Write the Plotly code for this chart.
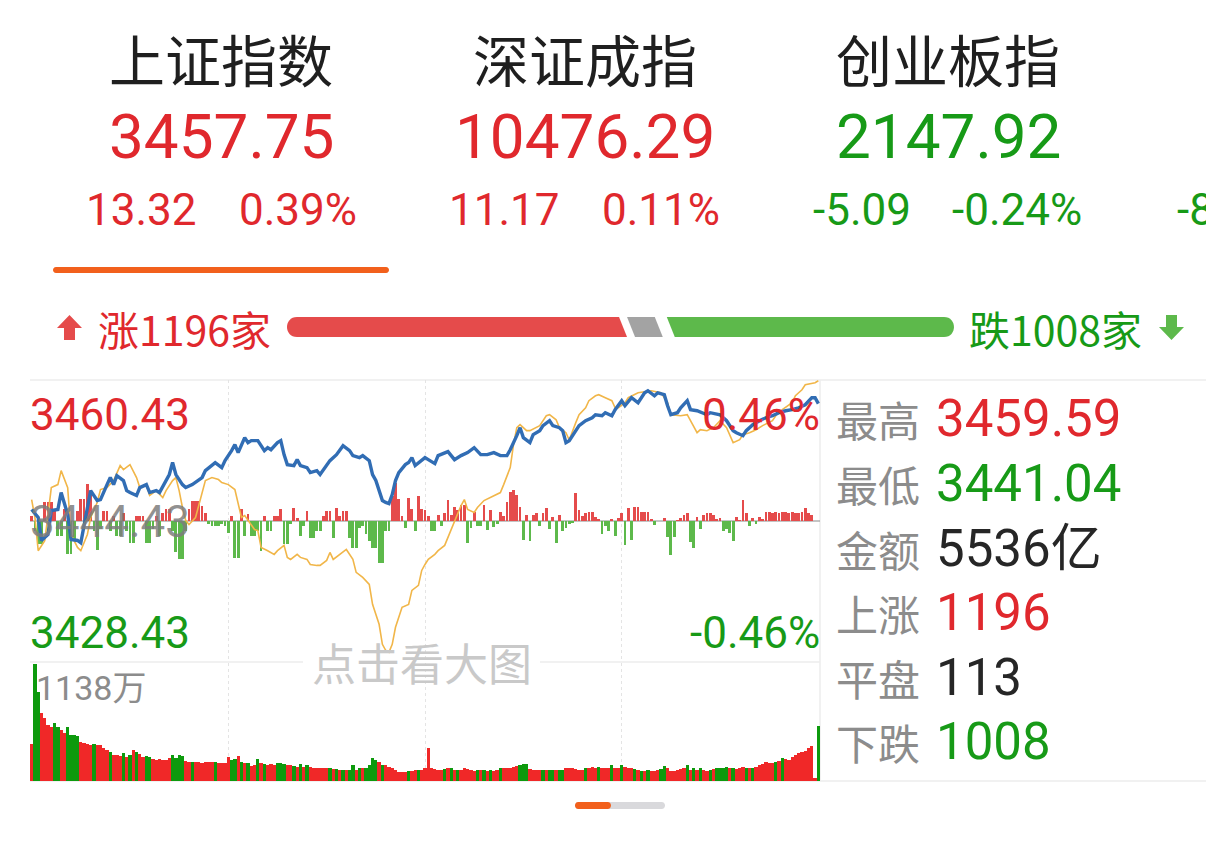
import plotly.graph_objects as go

W, H = 1206, 855

# ---------------- header data ----------------
index_names = ["上证指数", "深证成指", "创业板指"]
index_values = ["3457.75", "10476.29", "2147.92"]
index_changes = [13.32, 11.17, -5.09]
index_pcts = [0.39, 0.11, -0.24]
partial_fourth_change = "-8"

# ---------------- market breadth ----------------
n_up, n_flat, n_down = 1196, 113, 1008

# ---------------- price axis labels ----------------
pre_close = 3444.43
axis_top, axis_bottom = 3460.43, 3428.43
axis_pct = 0.46

# ---------------- index line (minute, price) ----------------
idx_min = [0, 2, 3, 5, 6, 8, 9, 11, 12, 14, 15, 16, 18, 20, 21, 23, 24, 25, 26, 28,
           29, 30, 32, 33, 35, 36, 38, 39, 41, 42, 43, 44, 46, 47, 49, 50, 52, 53, 55, 56,
           58, 59, 61, 62, 63, 65, 66, 67, 69, 71, 72, 73, 75, 76, 77, 78, 80, 81, 82, 84,
           85, 87, 88, 90, 91, 93, 94, 95, 97, 98, 100, 101, 103, 104, 105, 106, 107, 108, 109, 110,
           111, 112, 114, 115, 116, 117, 119, 120, 121, 123, 124, 127, 129, 131, 133, 135, 137, 139, 141, 143,
           145, 146, 148, 149, 150, 152, 153, 155, 156, 158, 159, 161, 162, 163, 164, 166, 167, 169, 171, 172,
           174, 175, 177, 178, 180, 181, 183, 185, 187, 188, 190, 191, 193, 194, 195, 197, 198, 200, 201, 203,
           206, 207, 210, 212, 214, 215, 217, 218, 220, 222, 224, 226, 228, 230, 232, 234, 236, 238, 239, 240]
idx_price = [3445.73, 3444.83, 3442.22, 3442.90, 3445.62, 3445.73, 3447.66, 3445.17, 3442.33, 3442.22,
             3441.95, 3444.03, 3447.88, 3446.75, 3446.86, 3448.56, 3449.36, 3448.56, 3449.58, 3449.02,
             3447.88, 3447.66, 3447.32, 3448.22, 3448.56, 3447.66, 3447.88, 3447.66, 3449.02, 3449.70,
             3451.06, 3449.70, 3448.56, 3448.22, 3448.56, 3448.79, 3449.36, 3450.15, 3450.72, 3451.06,
             3450.49, 3451.28, 3452.41, 3453.09, 3452.19, 3453.89, 3453.32, 3453.55, 3453.55, 3452.41,
             3452.75, 3452.52, 3453.32, 3453.55, 3451.96, 3450.83, 3450.72, 3451.39, 3450.72, 3450.49,
             3449.92, 3450.15, 3449.70, 3450.72, 3451.28, 3451.96, 3452.41, 3452.98, 3452.41, 3451.85,
             3451.62, 3451.85, 3451.28, 3449.70, 3449.02, 3447.88, 3446.75, 3446.53, 3446.41, 3447.43,
             3449.02, 3449.92, 3450.83, 3451.06, 3451.62, 3450.72, 3451.39, 3451.62, 3451.39, 3450.94,
             3451.85, 3452.30, 3451.39, 3451.85, 3452.19, 3452.75, 3451.96, 3451.96, 3452.19, 3451.85,
             3451.85, 3452.52, 3454.11, 3455.02, 3453.89, 3453.32, 3454.23, 3454.68, 3455.25, 3455.81,
             3455.25, 3455.02, 3454.68, 3453.32, 3453.55, 3454.79, 3455.25, 3455.81, 3456.15, 3456.49,
             3456.38, 3456.72, 3456.38, 3457.06, 3458.08, 3457.51, 3458.42, 3457.85, 3458.98, 3459.21,
             3458.64, 3458.98, 3458.76, 3457.51, 3456.49, 3456.72, 3457.28, 3458.08, 3457.06, 3456.94,
             3456.49, 3456.72, 3456.49, 3455.81, 3454.68, 3454.45, 3454.11, 3454.68, 3455.36, 3455.81,
             3456.15, 3456.38, 3456.72, 3456.94, 3457.06, 3457.28, 3457.62, 3458.42, 3458.42, 3457.75]

# ---------------- leading (unweighted) line ----------------
lead_min = [0, 1, 2, 4, 5, 6, 8, 9, 11, 12, 14, 15, 17, 18, 20, 21, 23, 25, 27, 28,
            30, 32, 33, 35, 36, 38, 40, 41, 43, 44, 45, 46, 47, 48, 50, 51, 52, 53, 55, 57,
            58, 60, 62, 63, 64, 65, 66, 68, 69, 70, 72, 74, 75, 77, 78, 79, 81, 82, 84, 85,
            87, 88, 90, 91, 92, 95, 96, 98, 99, 101, 103, 104, 106, 107, 108, 109, 110, 111, 112, 113,
            115, 116, 118, 119, 120, 121, 123, 124, 126, 127, 129, 130, 131, 132, 133, 135, 136, 138, 140, 141,
            143, 144, 146, 147, 148, 149, 151, 152, 154, 155, 157, 158, 160, 161, 163, 164, 166, 167, 169, 170,
            172, 173, 175, 177, 178, 179, 181, 182, 185, 189, 192, 194, 195, 198, 200, 201, 203, 204, 206, 208,
            210, 212, 213, 214, 216, 217, 219, 221, 223, 226, 227, 229, 232, 233, 235, 236, 239, 240]
lead_price = [3446.86, 3444.83, 3441.06, 3442.19, 3445.17, 3448.22, 3448.56, 3450.15, 3448.22, 3442.90,
              3441.43, 3441.06, 3442.90, 3444.83, 3446.53, 3448.00, 3448.22, 3449.02, 3450.72, 3450.26,
              3450.83, 3449.36, 3448.22, 3448.56, 3447.32, 3447.88, 3447.09, 3447.88, 3449.02, 3449.36,
              3447.88, 3445.96, 3444.49, 3444.03, 3444.83, 3446.30, 3447.88, 3449.02, 3449.36, 3449.13,
              3448.79, 3448.56, 3448.00, 3446.30, 3444.83, 3445.05, 3444.49, 3443.47, 3443.35, 3441.43,
              3441.06, 3440.64, 3441.06, 3441.66, 3440.30, 3440.07, 3440.64, 3440.30, 3440.07, 3439.50,
              3439.39, 3439.39, 3439.96, 3440.86, 3440.07, 3440.86, 3441.20, 3440.07, 3438.60, 3438.03,
              3437.24, 3434.97, 3432.71, 3430.44, 3429.76, 3429.54, 3430.44, 3432.37, 3433.50, 3434.63,
              3434.97, 3436.56, 3437.13, 3438.82, 3439.50, 3440.07, 3440.64, 3441.06, 3441.66, 3442.56,
              3444.26, 3445.17, 3446.19, 3446.86, 3445.73, 3445.39, 3445.96, 3446.75, 3447.09, 3447.32,
              3447.66, 3448.56, 3450.49, 3453.09, 3455.02, 3455.36, 3454.68, 3454.68, 3455.02, 3455.25,
              3456.38, 3456.49, 3455.92, 3455.02, 3454.45, 3453.62, 3455.59, 3456.49, 3457.28, 3458.08,
              3458.64, 3458.76, 3458.42, 3458.08, 3457.28, 3457.28, 3457.85, 3458.42, 3458.98, 3459.21,
              3458.98, 3457.85, 3456.49, 3456.38, 3456.49, 3455.81, 3454.45, 3454.79, 3454.68, 3455.02,
              3455.81, 3455.02, 3454.11, 3453.32, 3453.66, 3454.23, 3454.45, 3454.79, 3455.25, 3455.81,
              3456.38, 3457.06, 3457.85, 3458.64, 3459.32, 3459.89, 3460.12, 3460.34]

# ---------------- buy/sell flow bars (per minute, arbitrary units) ----------------
flow = [5, -10, -23, -23, 19, 19, 19, 10, -15, -15,
        12, -33, -33, -20, 10, 22, 22, 37, 30, -10,
        -29, -8, 10, 10, -10, 5, -15, -15, 8, -10,
        -22, -22, 5, 5, 5, -22, -22, -8, 5, -15,
        8, 12, 12, -10, -31, -38, -38, -10, 12, 20,
        20, 20, 15, 8, -3, -5, -5, -5, -3, -5,
        -12, 5, -37, -37, 12, -15, 7, -15, -15, -10,
        -30, 5, -10, -10, 5, 5, 12, -23, -23, -3,
        13, 3, -15, -5, 10, -17, -17, -10, -10, 5,
        10, 10, -17, 13, 5, 10, 10, -17, -27, -27,
        -7, -5, -13, -20, -27, -27, -42, -42, -10, -10,
        25, 38, 22, 5, -7, 23, 12, -10, 25, 12,
        11, 5, -10, -10, 6, -5, 8, 21, 6, 14,
        11, 16, 16, -22, -7, 9, -5, -5, 16, -9,
        11, -6, -3, 9, 5, 19, 29, 31, 26, 14,
        -19, 6, -20, 6, 8, -5, 8, 13, -8, 4,
        -22, 6, -10, -7, -3, -2, 28, 11, 5, 8,
        9, 9, 4, 2, -13, -5, -10, 2, -15, 3,
        8, -24, 13, -19, 14, 14, 9, 9, 9, 2,
        -4, 0, 0, 3, -16, -34, -16, 1, 3, 6,
        8, -21, -27, 4, -8, 6, 8, 8, 6, 2,
        3, -10, -8, -12, -20, 4, 1, 21, 8, -5,
        3, -3, 4, 2, 9, 9, 8, 9, 8, 9,
        9, 8, 9, 8, 8, 9, 13, 8, 6, 0,
        0]

# ---------------- volume (万) ----------------
volume = [357, 1138, 858, 656, 607, 540, 521, 559, 521, 492,
          463, 521, 443, 443, 434, 376, 366, 357, 347, 357,
          347, 347, 318, 299, 280, 251, 251, 241, 270, 231,
          251, 299, 280, 260, 231, 241, 231, 212, 202, 212,
          202, 202, 222, 251, 222, 251, 241, 193, 183, 183,
          183, 183, 174, 183, 183, 183, 183, 174, 174, 174,
          231, 202, 212, 241, 183, 174, 174, 145, 154, 212,
          174, 164, 154, 164, 154, 174, 174, 164, 154, 154,
          145, 135, 164, 135, 154, 135, 125, 125, 125, 125,
          125, 125, 116, 116, 106, 106, 106, 106, 154, 106,
          125, 125, 125, 154, 222, 202, 183, 154, 154, 135,
          125, 106, 87, 87, 87, 96, 96, 106, 106, 106,
          125, 318, 125, 116, 106, 106, 116, 125, 125, 106,
          106, 106, 125, 116, 106, 96, 106, 106, 106, 96,
          106, 96, 106, 125, 125, 125, 125, 135, 145, 154,
          164, 164, 116, 106, 106, 106, 106, 106, 106, 106,
          106, 106, 106, 125, 125, 125, 116, 106, 106, 125,
          125, 135, 125, 135, 125, 125, 125, 154, 125, 125,
          154, 135, 125, 125, 116, 106, 96, 96, 106, 96,
          96, 106, 116, 145, 125, 96, 96, 106, 116, 125,
          154, 106, 125, 106, 125, 106, 96, 106, 116, 125,
          125, 125, 135, 125, 125, 116, 125, 135, 125, 125,
          125, 135, 154, 164, 183, 174, 174, 183, 193, 222,
          212, 202, 231, 251, 270, 280, 289, 318, 337, 29,
          530]
vol_down_minutes = [1, 2, 7, 8, 11, 12, 13, 14, 19, 24, 28, 30, 32, 35, 36, 43, 44, 45, 46, 49,
                    56, 61, 62, 64, 66, 69, 71, 75, 76, 77, 80, 82, 84, 91, 93, 95, 97, 98, 100, 102,
                    103, 104, 105, 107, 115, 118, 126, 128, 130, 136, 138, 140, 143, 149, 150, 151, 156,
                    158, 159, 161, 162, 169, 173, 177, 180, 184, 186, 188, 192, 193, 200, 202, 204, 207,
                    209, 210, 211, 212, 214, 218, 220, 227, 229, 240]
vol_max_label = "1138万"

# ---------------- right-side stats ----------------
stat_labels = ["最高", "最低", "金额", "上涨", "平盘", "下跌"]
stat_values = ["3459.59", "3441.04", "5536亿", "1196", "113", "1008"]
stat_kind = ["up", "down", "flat", "up", "flat", "down"]

# ---------------- styling ----------------
RED_T = "#e0282d"
GREEN_T = "#179a17"
DARK_T = "#262626"
GRAY_T = "#8c8c8c"
CJK = "Noto Sans CJK SC"
NUM = "Roboto, Noto Sans CJK SC"
kind_color = {"up": RED_T, "down": GREEN_T, "flat": DARK_T}


def px(x):
    return x / W


def py(y):
    return 1 - y / H


def path_from(points):
    """points: list of (cmd, [(x,y),...]) in pixel coords -> paper path string"""
    s = []
    for cmd, pts in points:
        if cmd == "Z":
            s.append("Z")
        elif cmd == "C":
            s.append("C " + " ".join(f"{px(x):.5f},{py(y):.5f}" for x, y in pts))
        else:
            for j, (x, y) in enumerate(pts):
                c = cmd if (cmd == "L" or j == 0) else "L"
                s.append(f"{c} {px(x):.5f},{py(y):.5f}")
    return " ".join(s)


def rounded_bar(x0, x1, y0, y1, slant_left=0, slant_right=0, round_left=False, round_right=False):
    r = (y1 - y0) / 2
    k = 4 / 3 * r
    pts = []
    if round_left:
        pts.append(("M", [(x0 + r, y0)]))
    else:
        pts.append(("M", [(x0, y0)]))
    if round_right:
        pts.append(("L", [(x1 - r, y0)]))
        pts.append(("C", [(x1 - r + k, y0), (x1 - r + k, y1), (x1 - r, y1)]))
    else:
        pts.append(("L", [(x1 - slant_right, y0)]))
        pts.append(("L", [(x1, y1)]))
    if round_left:
        pts.append(("L", [(x0 + r, y1)]))
        pts.append(("C", [(x0 + r - k, y1), (x0 + r - k, y0), (x0 + r, y0)]))
    else:
        pts.append(("L", [(x0 + slant_left, y1)]))
    pts.append(("Z", []))
    return path_from(pts)


def text(x, y, s, size, color, family=NUM, xanchor="left"):
    return dict(x=px(x), y=py(y), xref="paper", yref="paper", text=s, showarrow=False,
                xanchor=xanchor, yanchor="middle", font=dict(family=family, size=size, color=color))


fig = go.Figure()

# flow bars (base axis, drawn beneath lines)
flow_x = list(range(len(flow)))
fig.add_trace(go.Bar(
    x=flow_x, y=flow, width=0.85,
    marker=dict(color=["#e54b4b" if v >= 0 else "#5db94b" for v in flow], line_width=0),
    xaxis="x", yaxis="y", hoverinfo="skip", showlegend=False))

# leading line and index line
fig.add_trace(go.Scatter(x=lead_min, y=lead_price, mode="lines",
                         line=dict(color="#f1b649", width=1.6),
                         xaxis="x", yaxis="y2", hoverinfo="skip", showlegend=False))
fig.add_trace(go.Scatter(x=idx_min, y=idx_price, mode="lines",
                         line=dict(color="#316db4", width=3.4),
                         xaxis="x", yaxis="y2", hoverinfo="skip", showlegend=False))

# volume
vol_x = list(range(len(volume)))
down_set = set(vol_down_minutes)
fig.add_trace(go.Bar(
    x=vol_x, y=volume, width=1.0,
    marker=dict(color=["#0d9a0d" if i in down_set else "#f02828" for i in vol_x], line_width=0),
    xaxis="x2", yaxis="y3", hoverinfo="skip", showlegend=False))

chart_l, chart_r = 30, 820
price_top_px, price_bot_px = 380, 662
vol_top_px, vol_bot_px = 663, 781

flow_half = 141
fig.update_layout(
    width=W, height=H,
    margin=dict(l=0, r=0, t=0, b=0),
    paper_bgcolor="white", plot_bgcolor="rgba(0,0,0,0)",
    bargap=0,
    xaxis=dict(domain=[px(chart_l), px(chart_r)], range=[-0.5, 240.5],
               showticklabels=False, ticks="", showgrid=True, tickvals=[60, 120, 180],
               gridcolor="#e4e4e4", griddash="dot", gridwidth=1, zeroline=False, showline=False,
               anchor="y"),
    yaxis=dict(domain=[py(price_bot_px), py(price_top_px)], range=[-flow_half, flow_half],
               showticklabels=False, showgrid=False, zeroline=False, showline=False, anchor="x"),
    yaxis2=dict(domain=[py(price_bot_px), py(price_top_px)], range=[axis_bottom, axis_top],
                overlaying="y", showticklabels=False, showgrid=False, zeroline=False,
                showline=False, anchor="x"),
    xaxis2=dict(domain=[px(chart_l), px(chart_r)], range=[-0.5, 240.5],
                showticklabels=False, ticks="", showgrid=True, tickvals=[60, 120, 180],
                gridcolor="#e4e4e4", griddash="dot", gridwidth=1, zeroline=False, showline=False,
                anchor="y3"),
    yaxis3=dict(domain=[py(vol_bot_px), py(vol_top_px)], range=[0, max(volume) * 1.005],
                showticklabels=False, showgrid=False, zeroline=False, showline=False, anchor="x2"),
)

shapes = []
ann = []

# ---- frame lines ----
line_c = "#ececec"
shapes.append(dict(type="line", xref="paper", yref="paper", x0=px(chart_l), x1=1,
                   y0=py(price_top_px), y1=py(price_top_px), line=dict(color=line_c, width=1.5), layer="below"))
shapes.append(dict(type="line", xref="paper", yref="paper", x0=px(chart_l), x1=px(303),
                   y0=py(price_bot_px), y1=py(price_bot_px), line=dict(color=line_c, width=1.5), layer="below"))
shapes.append(dict(type="line", xref="paper", yref="paper", x0=px(540), x1=px(chart_r),
                   y0=py(price_bot_px), y1=py(price_bot_px), line=dict(color=line_c, width=1.5), layer="below"))
shapes.append(dict(type="line", xref="paper", yref="paper", x0=px(chart_l), x1=1,
                   y0=py(vol_bot_px), y1=py(vol_bot_px), line=dict(color=line_c, width=1.5), layer="below"))
shapes.append(dict(type="line", xref="paper", yref="paper", x0=px(chart_r), x1=px(chart_r),
                   y0=py(vol_bot_px), y1=py(price_top_px), line=dict(color=line_c, width=1.5), layer="below"))
# pre-close line
shapes.append(dict(type="line", xref="x", yref="y2", x0=-0.5, x1=240.5, y0=pre_close, y1=pre_close,
                   line=dict(color="#8a8a8a", width=1.2), layer="below"))

# ---- header ----
col_centers = [221, 585, 948]
chg_right = [199, 562, 913]
pct_left = [237, 600, 950]
for i, name in enumerate(index_names):
    c = RED_T if index_changes[i] >= 0 else GREEN_T
    ann.append(text(col_centers[i], 58, name, 56, "#1f1f1f", CJK, "center"))
    ann.append(text(col_centers[i], 137, index_values[i], 62, c, NUM, "center"))
    ann.append(text(chg_right[i], 210, f"{index_changes[i]:.2f}", 44, c, NUM, "right"))
    ann.append(text(pct_left[i], 210, f"{index_pcts[i]:.2f}%", 44, c, NUM, "left"))
ann.append(text(1175, 210, partial_fourth_change, 44, GREEN_T, NUM, "left"))
# active tab underline
shapes.append(dict(type="path", xref="paper", yref="paper",
                   path=rounded_bar(53, 389, 267, 273, round_left=True, round_right=True),
                   fillcolor="#f2601c", line=dict(width=0)))

# ---- breadth bar ----
bar_l, bar_r, gap, slant = 287, 954, 8, 8
bar_y0, bar_y1 = 317, 337
total = n_up + n_flat + n_down
avail = bar_r - bar_l - 2 * gap
w_up = avail * n_up / total
w_flat = avail * n_flat / total
x_up_end = bar_l + w_up
x_flat0 = x_up_end + gap - slant / 2
x_flat1 = x_flat0 + w_flat + slant / 2
x_dn0 = x_flat1 + gap - slant / 2
shapes.append(dict(type="path", xref="paper", yref="paper",
                   path=rounded_bar(bar_l, x_up_end + slant / 2, bar_y0, bar_y1, slant_right=slant, round_left=True),
                   fillcolor="#e54b4b", line=dict(width=0)))
shapes.append(dict(type="path", xref="paper", yref="paper",
                   path=path_from([("M", [(x_flat0, bar_y0)]), ("L", [(x_flat1 - slant, bar_y0)]),
                                   ("L", [(x_flat1, bar_y1)]), ("L", [(x_flat0 + slant, bar_y1)]), ("Z", [])]),
                   fillcolor="#a3a3a3", line=dict(width=0)))
shapes.append(dict(type="path", xref="paper", yref="paper",
                   path=path_from([("M", [(x_dn0, bar_y0)]), ("L", [(bar_r - 10, bar_y0)]),
                                   ("C", [(bar_r + 3.3, bar_y0), (bar_r + 3.3, bar_y1), (bar_r - 10, bar_y1)]),
                                   ("L", [(x_dn0 + slant, bar_y1)]), ("Z", [])]),
                   fillcolor="#5db94b", line=dict(width=0)))
# arrows
shapes.append(dict(type="path", xref="paper", yref="paper",
                   path=path_from([("M", [(69.5, 315)]), ("L", [(82, 328), (75, 328), (75, 340), (64, 340),
                                                              (64, 328), (57, 328)]), ("Z", [])]),
                   fillcolor="#e54b4b", line=dict(width=0)))
shapes.append(dict(type="path", xref="paper", yref="paper",
                   path=path_from([("M", [(1171.5, 340)]), ("L", [(1184, 327), (1177, 327), (1177, 315),
                                                                (1166, 315), (1166, 327), (1159, 327)]), ("Z", [])]),
                   fillcolor="#5db94b", line=dict(width=0)))
ann.append(text(96, 328, f"涨{n_up}家", 41, RED_T, CJK, "left"))
ann.append(text(1144, 328, f"跌{n_down}家", 41, GREEN_T, CJK, "right"))

# ---- chart labels ----
ann.append(text(28, 415, f"{axis_top:.2f}", 44, RED_T))
ann.append(text(28, 522, f"{pre_close:.2f}", 44, "rgba(125,125,125,0.85)"))
ann.append(text(28, 633, f"{axis_bottom:.2f}", 44, GREEN_T))
ann.append(text(822, 415, f"{axis_pct:.2f}%", 44, RED_T, NUM, "right"))
ann.append(text(822, 633, f"-{axis_pct:.2f}%", 44, GREEN_T, NUM, "right"))
ann.append(text(422, 662, "点击看大图", 44, "#c9c9c9", CJK, "center"))
ann.append(text(34, 688, vol_max_label, 34, GRAY_T))

# ---- stats panel ----
row_y = [418, 483, 548, 612, 677, 741]
for lab, val, k, yy in zip(stat_labels, stat_values, stat_kind, row_y):
    ann.append(text(834, yy, lab, 42, GRAY_T, CJK, "left"))
    ann.append(text(934, yy, val, 51, kind_color[k], NUM, "left"))

# ---- page indicator ----
shapes.append(dict(type="path", xref="paper", yref="paper",
                   path=rounded_bar(575, 665, 802, 809, round_left=True, round_right=True),
                   fillcolor="#d9d9dc", line=dict(width=0)))
shapes.append(dict(type="path", xref="paper", yref="paper",
                   path=rounded_bar(575, 611, 802, 809, round_left=True, round_right=True),
                   fillcolor="#f2601c", line=dict(width=0)))

fig.update_layout(shapes=shapes, annotations=ann)
fig.write_html("out.html", config={"displayModeBar": False, "staticPlot": True},
               post_script="document.body.style.margin='0px';document.body.style.overflow='hidden';")
